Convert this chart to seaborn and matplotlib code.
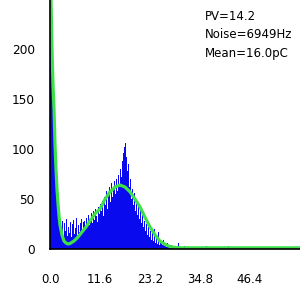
import numpy as np
import pandas as pd
import matplotlib
matplotlib.use("Agg")
import matplotlib.pyplot as plt
import seaborn as sns

# ---- data ----
bin_width = 0.232  # charge units per bin
main_counts = [
    600, 255, 150, 147, 102, 78, 58, 42, 32, 26,
    24, 14, 28, 12, 26, 18, 30, 13, 22, 16, 27, 12, 25, 29, 15, 21, 31, 14, 24, 17, 26, 30, 16, 27,
    28, 20, 31, 22, 34, 24, 30, 36, 26, 38, 29, 40, 33, 27, 42, 35, 45,
    38, 48, 33, 52, 44, 58, 40, 55, 62, 47, 66, 52, 60, 68, 55,
    70, 58, 74, 64, 80, 72, 88, 96, 102, 106,
    92, 78, 85, 62, 70,
    50, 60, 44, 56, 38, 50, 34, 45, 30, 40, 26, 34, 22, 28, 18,
    25, 14, 22, 12, 18, 9, 16, 8, 20, 6, 13, 5, 17, 4, 9,
    7, 4, 9, 3, 5, 2, 6, 2, 3, 1, 4, 1, 2, 1, 1,
]
tail_pos = [29.7, 31.1, 32.7, 33.4, 36.4, 38.9, 41.5, 45.7, 48.7, 51.3, 54.3]
tail_counts = [6, 3, 2, 2, 3, 2, 3, 2, 1, 1, 1]

fit_x = [0.0, 0.232, 0.464, 0.696, 0.928, 1.16, 1.39, 1.62, 1.86, 2.09, 2.32, 2.78, 3.25,
         3.71, 4.18, 4.64, 5.57, 6.50, 7.42, 8.35, 9.28, 10.4, 11.6, 12.8, 13.9, 15.1,
         16.2, 17.4, 18.6, 19.7, 20.9, 22.0, 23.2, 24.4, 25.5, 26.7, 27.8, 29.0, 30.2, 58.0]
fit_y = [400, 250, 200, 165, 140, 105, 80, 60, 45, 33, 24, 14, 8,
         6, 5, 5.5, 8, 12, 17, 22, 28, 35, 40, 50, 57, 62,
         64, 62, 57, 50, 42, 32, 22, 14, 8, 4.5, 2.5, 1.5, 1.2, 1.2]

xticks = [0.0, 11.6, 23.2, 34.8, 46.4]
yticks = [0, 50, 100, 150, 200]
info_lines = ["PV=14.2", "Noise=6949Hz", "Mean=16.0pC"]

# ---- build histogram table ----
x_max = 58.0
n_bins = int(round(x_max / bin_width))
centers = (np.arange(n_bins) + 0.5) * bin_width
weights = np.zeros(n_bins)
weights[:len(main_counts)] = main_counts
for p, c in zip(tail_pos, tail_counts):
    weights[int(p / bin_width)] += c
hist_df = pd.DataFrame({"charge": centers, "count": weights})
fit_df = pd.DataFrame({"charge": fit_x, "fit": fit_y})

sns.set_style("white")
plt.rcParams["font.family"] = ["DejaVu Sans"]

fig = plt.figure(figsize=(3, 3), dpi=100)
ax = fig.add_axes([50 / 300, 51 / 300, 250 / 300, 249 / 300])

sns.histplot(data=hist_df, x="charge", weights="count", bins=n_bins,
             binrange=(0, n_bins * bin_width), ax=ax,
             color="#0a0aee", edgecolor="none", alpha=1.0, element="bars")
sns.lineplot(data=fit_df, x="charge", y="fit", ax=ax, color="#3ee04a", linewidth=2.3)

ax.set_xlim(0, x_max)
ax.set_ylim(0, 249)
ax.set_xticks(xticks)
ax.set_xticklabels([f"{t:.1f}" for t in xticks])
ax.set_yticks(yticks)
ax.set_xlabel("")
ax.set_ylabel("")
for s in ["top", "right"]:
    ax.spines[s].set_visible(False)
for s in ["left", "bottom"]:
    ax.spines[s].set_color("black")
    ax.spines[s].set_linewidth(1.2)
ax.tick_params(axis="x", direction="in", length=3, width=1, pad=17, labelsize=8.5, colors="black")
ax.tick_params(axis="y", direction="out", length=3, width=1, pad=8, labelsize=8.7, colors="black")
ax.grid(False)

for i, line in enumerate(info_lines):
    fig.text(205 / 300, 1 - (16 + 19 * i) / 300, line, fontsize=8.5,
             ha="left", va="center", color="black")

fig.savefig("out.png", dpi=100)
